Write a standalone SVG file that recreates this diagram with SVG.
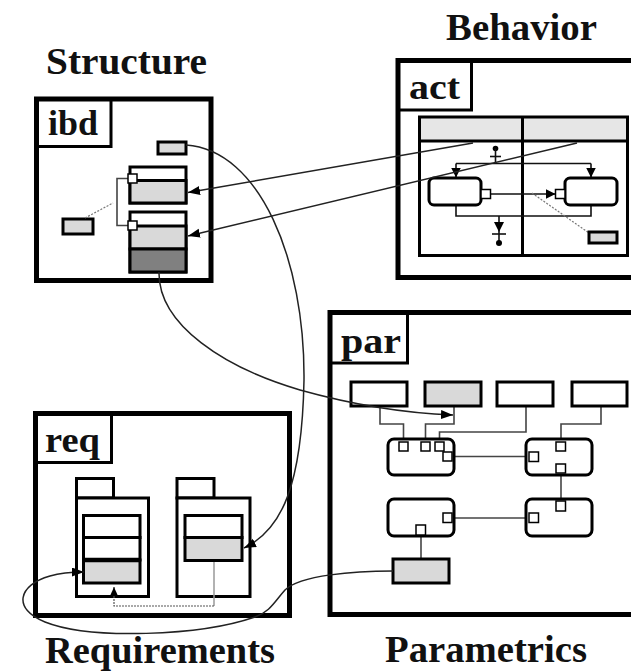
<svg xmlns="http://www.w3.org/2000/svg" width="631" height="672" viewBox="0 0 631 672">
  <style>
    text { font-family: "Liberation Serif", "Times New Roman", serif; font-weight: bold; fill: #111; }
    .title { font-size: 38px; }
    .lbl { font-size: 36px; }
    .frame { fill: #fff; stroke: #000; stroke-width: 5; }
    .tab { fill: none; stroke: #000; stroke-width: 3; }
    .box { fill: #fff; stroke: #000; stroke-width: 3; }
    .gbox { fill: #d9d9d9; stroke: #000; stroke-width: 3; }
    .dbox { fill: #808080; stroke: #000; stroke-width: 3; }
    .pin { fill: #fff; stroke: #000; stroke-width: 1.5; }
    .act { fill: #fff; stroke: #000; stroke-width: 3; }
    .wire { fill: none; stroke: #444; stroke-width: 1.6; }
    .flow { fill: none; stroke: #111; stroke-width: 1.6; }
    .dots { fill: none; stroke: #777; stroke-width: 1.2; stroke-dasharray: 2 1.5; }
    .link { fill: none; stroke: #222; stroke-width: 1.5; }
  </style>
  <defs>
    <marker id="arrow" markerUnits="userSpaceOnUse" markerWidth="13" markerHeight="10" refX="12" refY="4.5" orient="auto">
      <path d="M0,0 L12,4.5 L0,9 z" fill="#000"/>
    </marker>
    <marker id="arrowS" markerUnits="userSpaceOnUse" markerWidth="11" markerHeight="11" refX="10" refY="5" orient="auto">
      <path d="M0,0 L10,5 L0,10 z" fill="#000"/>
    </marker>
    <marker id="arrowT" markerUnits="userSpaceOnUse" markerWidth="10" markerHeight="9" refX="9" refY="4" orient="auto">
      <path d="M0,0 L9,4 L0,8 z" fill="#000"/>
    </marker>
  </defs>

  <rect width="631" height="672" fill="#fff"/>

  <!-- view titles -->
  <g id="titles">
    <text class="title" x="46" y="74" textLength="161" lengthAdjust="spacingAndGlyphs">Structure</text>
    <text class="title" x="446" y="40" textLength="151" lengthAdjust="spacingAndGlyphs">Behavior</text>
    <text class="title" x="45" y="663" textLength="230" lengthAdjust="spacingAndGlyphs">Requirements</text>
    <text class="title" x="385" y="662" textLength="202" lengthAdjust="spacingAndGlyphs">Parametrics</text>
  </g>

  <!-- internal block diagram -->
  <g id="ibd">
    <rect class="frame" x="36.5" y="99" width="174.5" height="181.5"/>
    <path class="tab" d="M36.5,146.5 H111 V99"/>
    <text class="lbl" x="48" y="135" textLength="50" lengthAdjust="spacingAndGlyphs">ibd</text>
    <rect class="gbox" x="158" y="142" width="28" height="12" stroke-width="2.5"/>
    <rect class="gbox" x="63" y="219" width="30" height="15" stroke-width="2.5"/>
    <line class="dots" x1="85" y1="218" x2="113" y2="203"/>
    <g id="ibd-part1">
      <rect class="box" x="130" y="167" width="56" height="36"/>
      <rect class="gbox" x="130" y="180.5" width="56" height="22.5"/>
    </g>
    <g id="ibd-part2">
      <rect class="box" x="130" y="212" width="56" height="60"/>
      <rect class="gbox" x="130" y="226" width="56" height="23"/>
      <rect class="dbox" x="130" y="249" width="56" height="23"/>
    </g>
    <path class="wire" d="M128,178.5 H117 V225.5 H128"/>
    <rect class="pin" x="128" y="174" width="9" height="9"/>
    <rect class="pin" x="128" y="221" width="9" height="9"/>
  </g>

  <!-- activity diagram -->
  <g id="act">
    <rect class="frame" x="398" y="60.5" width="245" height="217"/>
    <path class="tab" d="M398,110 H471.5 V60.5"/>
    <text class="lbl" x="409" y="99" textLength="51" lengthAdjust="spacingAndGlyphs">act</text>
    <g id="act-lanes">
      <rect x="419.5" y="117" width="208" height="24" fill="#e6e6e6"/>
      <rect x="419.5" y="117" width="208" height="138.5" fill="none" stroke="#000" stroke-width="3"/>
      <line x1="419.5" y1="141" x2="627.5" y2="141" stroke="#000" stroke-width="3"/>
      <line x1="522.5" y1="117" x2="522.5" y2="255.5" stroke="#000" stroke-width="3"/>
    </g>
    <g id="act-flows">
      <circle cx="495.5" cy="148.5" r="2.8" fill="#000"/>
      <line class="flow" x1="495.5" y1="148.5" x2="495.5" y2="163.5"/>
      <line class="flow" x1="490" y1="156.5" x2="501" y2="156.5"/>
      <path class="flow" d="M456,163.5 H591"/>
      <line class="flow" x1="456" y1="163.5" x2="456" y2="177.5" marker-end="url(#arrowS)"/>
      <line class="flow" x1="591" y1="163.5" x2="591" y2="177.5" marker-end="url(#arrowS)"/>
      <line class="flow" x1="490.5" y1="194" x2="555.5" y2="194" marker-end="url(#arrowS)"/>
      <path class="flow" d="M456,205 V216 H591 V205"/>
      <line class="flow" x1="499" y1="216" x2="499" y2="232" marker-end="url(#arrowS)"/>
      <line class="flow" x1="492" y1="234" x2="506" y2="234"/>
      <line class="flow" x1="499" y1="232" x2="499" y2="243"/>
      <circle cx="499" cy="243" r="3" fill="#000"/>
      <line class="dots" x1="532" y1="193" x2="589" y2="233"/>
    </g>
    <g id="action1">
      <rect class="act" x="429" y="178" width="52" height="27" rx="5"/>
      <rect class="pin" x="481" y="189.5" width="9.5" height="9"/>
    </g>
    <g id="action2">
      <rect class="act" x="565" y="178" width="52" height="27" rx="5"/>
      <rect class="pin" x="555.5" y="189.5" width="9.5" height="9"/>
    </g>
    <rect class="gbox" x="589" y="232" width="28" height="11" stroke-width="2.5"/>
  </g>

  <!-- parametric diagram -->
  <g id="par">
    <rect class="frame" x="330" y="312.5" width="310" height="302"/>
    <path class="tab" d="M330,363 H407.5 V312.5"/>
    <text class="lbl" x="341" y="353" textLength="60" lengthAdjust="spacingAndGlyphs">par</text>
    <g id="par-wires">
      <path class="wire" d="M380,406 V424 H403.5 V442"/>
      <path class="wire" d="M454,406 V424 H425.5 V442"/>
      <path class="wire" d="M526,406 V432 H439.5 V442"/>
      <path class="wire" d="M601,406 V424 H561 V442"/>
      <path class="wire" d="M452,456.5 H529"/>
      <path class="wire" d="M561,473 V501"/>
      <path class="wire" d="M452,518 H529"/>
      <path class="wire" d="M421,534 V559"/>
    </g>
    <g id="par-values">
      <rect class="box" x="351" y="382" width="56" height="24"/>
      <rect class="gbox" x="425" y="382" width="56" height="24"/>
      <rect class="box" x="497" y="382" width="56" height="24"/>
      <rect class="box" x="572" y="382" width="55" height="24"/>
      <rect class="gbox" x="393" y="559" width="56" height="24"/>
    </g>
    <g id="constraint1">
      <rect class="act" x="388" y="439" width="66" height="36" rx="6"/>
      <rect class="pin" x="399" y="442" width="9" height="9"/>
      <rect class="pin" x="421" y="442" width="9" height="9"/>
      <rect class="pin" x="435" y="442" width="9" height="9"/>
      <rect class="pin" x="443" y="452" width="9" height="9"/>
    </g>
    <g id="constraint2">
      <rect class="act" x="526" y="439" width="66" height="36" rx="6"/>
      <rect class="pin" x="556" y="442" width="9.5" height="9"/>
      <rect class="pin" x="529" y="452" width="9.5" height="9.5"/>
      <rect class="pin" x="556" y="464" width="9.5" height="9"/>
    </g>
    <g id="constraint3">
      <rect class="act" x="388" y="499" width="66" height="37" rx="6"/>
      <rect class="pin" x="443" y="513" width="9" height="9.5"/>
      <rect class="pin" x="416" y="525" width="9.5" height="10"/>
    </g>
    <g id="constraint4">
      <rect class="act" x="526" y="499" width="66" height="37" rx="6"/>
      <rect class="pin" x="556" y="501" width="9.5" height="10"/>
      <rect class="pin" x="529" y="513" width="9.5" height="9.5"/>
    </g>
  </g>

  <!-- requirements diagram -->
  <g id="req">
    <rect class="frame" x="35.5" y="413.5" width="254" height="202"/>
    <path class="tab" d="M35.5,462.5 H111.5 V413.5"/>
    <text class="lbl" x="45" y="452" textLength="55" lengthAdjust="spacingAndGlyphs">req</text>
    <g id="req1">
      <rect class="box" x="76.5" y="478.5" width="37" height="19.5" stroke-width="2.5"/>
      <rect class="box" x="76.5" y="498" width="72" height="98.5" stroke-width="2.5"/>
      <rect class="box" x="83.5" y="515.5" width="56.5" height="22"/>
      <rect class="box" x="83.5" y="537.5" width="56.5" height="22.5"/>
      <rect class="gbox" x="83.5" y="560" width="56.5" height="23"/>
      <line x1="83.5" y1="560" x2="140" y2="560" stroke="#000" stroke-width="4.5"/>
    </g>
    <g id="req2">
      <rect class="box" x="177" y="478.5" width="37" height="19.5" stroke-width="2.5"/>
      <rect class="box" x="177" y="498" width="73" height="98.5" stroke-width="2.5"/>
      <rect class="box" x="185" y="515.5" width="57" height="22"/>
      <rect class="gbox" x="185" y="537.5" width="57" height="23"/>
    </g>
    <g id="req-trace">
      <line x1="214" y1="562" x2="214" y2="606" stroke="#999" stroke-width="1.5"/>
      <path d="M214,606 H114 V596" fill="none" stroke="#555" stroke-width="1.2" stroke-dasharray="2 1"/>
      <line x1="114" y1="597" x2="114" y2="587" stroke="#333" stroke-width="1.2" marker-end="url(#arrowT)"/>
    </g>
  </g>

  <!-- cross-view connectors -->
  <g id="connectors">
    <line class="link" x1="473" y1="143" x2="188" y2="192.5" marker-end="url(#arrow)"/>
    <line class="link" x1="577" y1="143" x2="188" y2="236" marker-end="url(#arrow)"/>
    <path class="link" d="M186,145 C260,150 305,260 304,380 C302,485 282,530 244,548" marker-end="url(#arrow)"/>
    <path class="link" d="M159,272 C158,325 225,368 300,390 C350,404 400,413 453,415" marker-end="url(#arrow)"/>
    <path class="link" d="M393,571 C355,571 300,575 285,590 C275,601 270,612 255,617 C200,636 90,640 45,622 C12,609 18,585 50,576 C60,573 70,572 84,572" marker-end="url(#arrow)"/>
  </g>
</svg>
